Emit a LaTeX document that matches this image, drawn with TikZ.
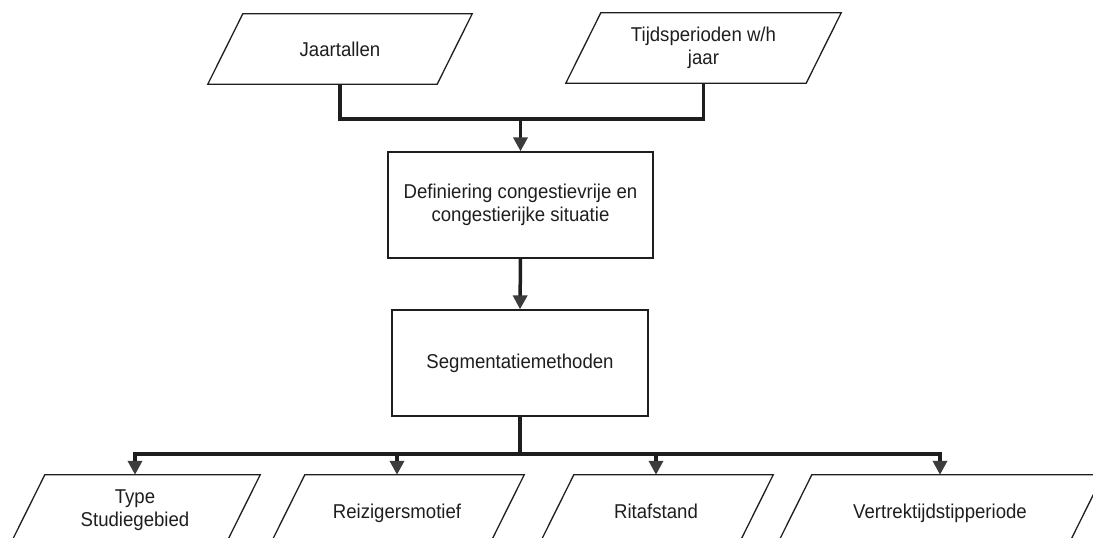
\documentclass[tikz,border=0pt]{standalone}
\usepackage{fontspec}
\setmainfont{Liberation Sans}[FakeStretch=0.93]
\usetikzlibrary{arrows.meta}
\definecolor{ink}{HTML}{1E1E1E}
\definecolor{tipgray}{HTML}{3C3C3C}
\tikzset{
  txt/.style={font=\fontsize{20}{23}\selectfont, text=ink, align=center},
  para/.style={txt, rectangle, inner sep=0pt, minimum height=70pt},
  procbox/.style={txt, rectangle, draw=ink, line width=1.3pt, inner sep=0pt},
  outline/.style={draw=ink, line width=1.3pt, line join=miter},
  bus/.style={draw=ink, line width=3.5pt},
  arr/.style={draw=ink, line width=3.5pt, -{Triangle[width=14pt,length=14pt,fill=tipgray,color=tipgray]}},
}
\newcommand{\paraoutline}[1]{%
  \draw[outline] ([xshift=-17.5pt]#1.south west) -- ([xshift=17.5pt]#1.north west)
    -- ([xshift=17.5pt]#1.north east) -- ([xshift=-17.5pt]#1.south east) -- cycle;}
\newcommand{\oneline}[1]{\raisebox{-8.5pt}[0pt][0pt]{#1}}
\begin{document}
\begin{tikzpicture}[x=1pt,y=-1pt]
\useasboundingbox (0,0) rectangle (1093,538);
% top inputs
\node[para, minimum width=229pt] (jaar) at (340,49) {Jaartallen};
\node[para, minimum width=240pt] (tijd) at (703.5,48) {Tijdsperioden w/h\\jaar};
\paraoutline{jaar}
\paraoutline{tijd}
% process boxes
\node[procbox, minimum width=265pt, minimum height=106pt] (def) at (520.5,205)
  {Definiering congestievrije en\\congestierijke situatie};
\node[procbox, minimum width=256pt, minimum height=106pt] (seg) at (520,363)
  {Segmentatiemethoden};
% bottom outputs
\node[para, minimum width=215pt] (type) at (135,510) {Type\\Studiegebied};
\node[para, minimum width=219pt] (reiz) at (397,510) {\oneline{Reizigersmotief}};
\node[para, minimum width=199pt] (rit) at (656,510) {\oneline{Ritafstand}};
\node[para, minimum width=291pt] (vert) at (940,510) {\oneline{Vertrektijdstipperiode}};
\paraoutline{type}
\paraoutline{reiz}
\paraoutline{rit}
\paraoutline{vert}
% connectors
\coordinate (topbus) at (520.5,119);
\coordinate (botbus) at (520,454);
\draw[bus] (jaar.south) |- (topbus) -| (tijd.south);
\draw[arr] (topbus) -- (def.north);
\draw[arr] (def.south) -- (seg.north);
\draw[bus] (seg.south) -- (botbus);
\draw[bus, line cap=rect] (type.north |- botbus) -- (vert.north |- botbus);
\draw[arr] (type.north |- botbus) -- (type.north);
\draw[arr] (reiz.north |- botbus) -- (reiz.north);
\draw[arr] (rit.north |- botbus) -- (rit.north);
\draw[arr] (vert.north |- botbus) -- (vert.north);
\end{tikzpicture}
\end{document}
